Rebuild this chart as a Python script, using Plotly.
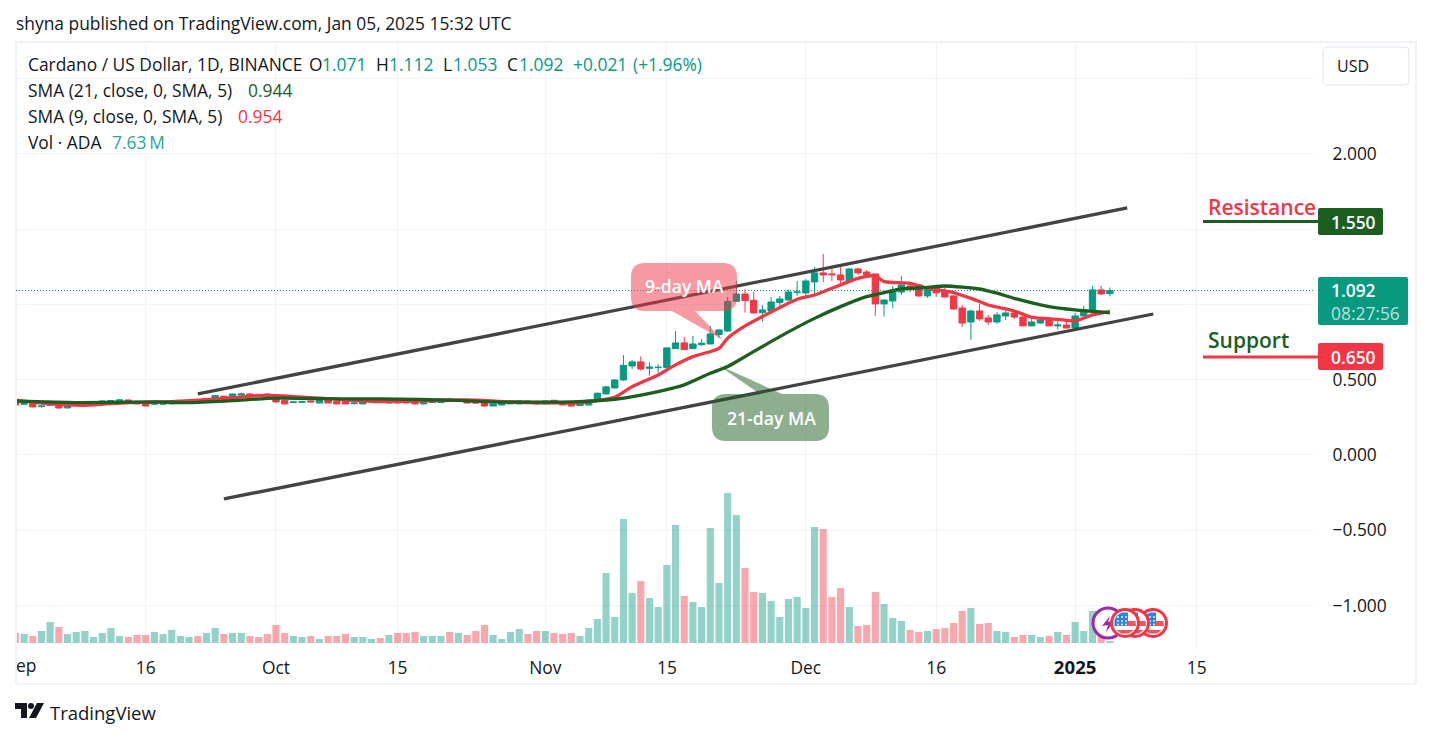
import pandas as pd
import plotly.graph_objects as go

dates = pd.date_range("2024-09-01", "2025-01-05", freq="D")

opens = [.352,.337,.343,.321,.330,.339,.312,.330,.345,.341,.339,.356,.359,.365,.356,.345,.337,.337,.339,.350,.352,.363,.356,.361,.390,.379,.398,.405,.403,.405,
 .383,.361,.348,.350,.359,.345,.365,.356,.354,.341,.339,.354,.361,.345,.370,.365,.356,.339,.348,.348,.372,.363,.367,.352,.350,.325,.332,.339,.339,.359,.356,
 .339,.363,.352,.343,.328,.332,.359,.405,.445,.498,.591,.618,.575,.580,.580,.706,.744,.706,.733,.737,.799,.823,1.020,1.069,1.027,.945,.956,1.012,1.029,1.078,
 1.076,1.149,1.209,1.202,1.195,1.155,1.235,1.215,1.202,1.003,1.023,1.082,1.122,1.129,1.056,1.109,1.082,1.056,.976,.883,.956,.910,.883,.923,.943,.916,.857,.876,.907,.857,.863,
 .843,.923,.963,1.096,1.071]
highs = [.355,.343,.345,.330,.337,.341,.334,.350,.354,.350,.361,.365,.372,.367,.359,.348,.345,.348,.356,.359,.365,.365,.374,.398,.394,.407,.414,.412,.405,.407,
 .385,.363,.354,.356,.361,.367,.370,.359,.356,.348,.359,.363,.363,.367,.372,.367,.359,.356,.356,.374,.381,.370,.370,.354,.352,.341,.345,.350,.361,.361,.359,
 .361,.365,.354,.345,.341,.368,.414,.460,.503,.664,.631,.655,.615,.602,.713,.823,.784,.790,.770,.857,.835,1.049,1.155,1.100,1.082,.994,1.049,1.056,1.096,1.155,
 1.169,1.248,1.335,1.242,1.248,1.242,1.242,1.228,1.205,1.032,1.122,1.189,1.140,1.135,1.109,1.122,1.113,1.058,.996,.963,1.003,.930,.950,.956,.950,.923,.914,.903,.916,.910,.896,
 .943,.989,1.122,1.122,1.112]
lows = [.330,.332,.317,.314,.328,.306,.310,.328,.341,.339,.337,.352,.354,.350,.337,.323,.332,.334,.337,.348,.350,.343,.352,.359,.381,.377,.394,.394,.392,.370,
 .345,.337,.343,.345,.350,.343,.343,.337,.337,.334,.337,.352,.348,.343,.343,.343,.337,.337,.345,.345,.359,.361,.343,.343,.319,.323,.328,.337,.337,.345,.337,
 .337,.339,.330,.321,.323,.330,.357,.403,.443,.491,.571,.560,.527,.547,.578,.704,.698,.704,.724,.735,.777,.817,1.016,.945,.938,.885,.945,.974,1.025,1.056,
 1.043,1.062,1.149,1.155,1.129,1.153,1.195,1.182,.923,.919,.976,1.062,1.082,1.049,1.043,1.049,1.045,.963,.850,.764,.890,.863,.870,.896,.903,.855,.855,.870,.855,.834,.841,
 .841,.921,.961,1.062,1.053]
closes = [.332,.341,.319,.325,.334,.312,.332,.348,.350,.345,.359,.361,.365,.352,.339,.325,.341,.345,.354,.354,.363,.350,.370,.394,.383,.405,.405,.398,.394,.374,
 .352,.339,.352,.354,.352,.365,.345,.339,.339,.345,.356,.361,.350,.365,.345,.345,.339,.354,.354,.372,.361,.367,.345,.345,.325,.339,.343,.348,.359,.348,.339,
 .359,.341,.332,.325,.339,.365,.410,.452,.498,.595,.618,.571,.584,.582,.711,.744,.700,.737,.742,.804,.830,1.020,1.069,1.025,.943,.963,1.016,1.036,1.082,1.082,
 1.155,1.209,1.195,1.197,1.162,1.235,1.209,1.195,1.003,1.029,1.096,1.129,1.118,1.056,1.104,1.076,1.049,.969,.876,.956,.903,.883,.930,.943,.916,.857,.883,.896,.857,.863,.843,
 .923,.963,1.096,1.069,1.092]
volumes_m = [40,36,28,48,84,64,36,44,48,24,40,60,28,24,32,32,44,36,52,28,24,28,40,60,36,40,40,28,24,36,
 72,40,28,24,28,16,28,28,36,24,24,16,20,32,40,40,44,28,28,28,44,40,32,48,72,32,16,44,56,36,48,
 48,40,36,40,28,60,96,280,104,496,200,248,180,144,312,472,188,164,144,460,240,600,512,300,204,200,168,104,176,184,
 140,464,456,184,220,144,68,72,204,156,100,88,52,44,48,56,60,80,128,140,76,80,48,44,24,32,32,24,28,44,32,
 84,48,128,44,7.63]

ma21_dates = ["2024-09-01","2024-09-08","2024-09-17","2024-09-21","2024-09-26","2024-10-01","2024-10-09","2024-10-13","2024-10-22","2024-10-26","2024-11-04",
 "2024-11-09","2024-11-14","2024-11-17","2024-11-20","2024-11-22","2024-11-24","2024-11-28","2024-12-02","2024-12-05","2024-12-08","2024-12-10","2024-12-12","2024-12-15","2024-12-17","2024-12-21","2024-12-23","2024-12-25","2024-12-29","2025-01-01","2025-01-05"]
ma21_vals = [.357,.348,.352,.348,.361,.377,.372,.372,.363,.352,.352,
 .370,.421,.465,.542,.587,.653,.786,.907,.985,1.051,1.078,1.102,1.113,1.122,1.102,1.074,1.040,.985,.963,.944]
ma9_dates = ["2024-09-01","2024-09-05","2024-09-09","2024-09-14","2024-09-19","2024-09-24","2024-09-30","2024-10-07","2024-10-13","2024-10-19","2024-10-23","2024-10-30","2024-11-05",
 "2024-11-07","2024-11-09","2024-11-11","2024-11-14","2024-11-16","2024-11-18","2024-11-21","2024-11-22","2024-11-24","2024-11-26","2024-11-30","2024-12-02","2024-12-04","2024-12-07","2024-12-09","2024-12-10","2024-12-13","2024-12-15","2024-12-18","2024-12-20","2024-12-22","2024-12-25","2024-12-27","2024-12-30","2025-01-01","2025-01-03","2025-01-05"]
ma9_vals = [.365,.339,.330,.348,.354,.370,.396,.374,.354,.361,.365,.348,.348,
 .361,.383,.454,.531,.598,.653,.708,.775,.857,.919,1.034,1.062,1.107,1.173,1.189,1.151,1.140,1.107,1.078,1.040,.996,.956,.914,.901,.890,.930,.954]

upper_dates, upper_vals = ["2024-09-22", "2025-01-07"], [.405, 1.640]
lower_dates, lower_vals = ["2024-09-25", "2025-01-10"], [-.292, .936]

x_ticks = ["2024-09-01","2024-09-16","2024-10-01","2024-10-15","2024-11-01","2024-11-15","2024-12-01","2024-12-16","2025-01-01","2025-01-15"]
x_labels = ["","16","Oct","15","Nov","15","Dec","16","<span style='font-size:18.6px'><b>2025</b></span>","15"]
y_ticks = [-1,-.5,0,.5,1,1.5,2,2.5]
y_labels = ["−1.000","−0.500","0.000","0.500","","","2.000",""]

FONT = "Open Sans"
FS = 17.4
INK = "#131722"
UP, DOWN = "#089981", "#f23645"
DGREEN = "#1b5e20"
L, R, T, B = 16, 1314, 42, 650

def px(x): return (x - L) / (R - L)
def py(y): return (B - y) / (B - T)
def P(*pts):
    return "M " + " L ".join(f"{px(a)},{py(b)}" for a, b in pts) + " Z"

shapes, notes = [], []
def poly(pts, fill, line=None, lw=0):
    shapes.append(dict(type="path", xref="paper", yref="paper", path=P(*pts), fillcolor=fill,
                       line=dict(color=line or "rgba(0,0,0,0)", width=lw)))
def rrect(x0, y0, x1, y1, r, fill, line=None, lw=0, tail=None):
    s = [f"M {px(x0+r)},{py(y0)}"]
    if tail and tail[0] == "top":
        s += [f"L {px(tail[1])},{py(y0)}", f"L {px(tail[3])},{py(tail[4])}", f"L {px(tail[2])},{py(y0)}"]
    s += [f"L {px(x1-r)},{py(y0)}", f"Q {px(x1)},{py(y0)} {px(x1)},{py(y0+r)}",
          f"L {px(x1)},{py(y1-r)}", f"Q {px(x1)},{py(y1)} {px(x1-r)},{py(y1)}"]
    if tail and tail[0] == "bottom":
        s += [f"L {px(tail[2])},{py(y1)}", f"L {px(tail[3])},{py(tail[4])}", f"L {px(tail[1])},{py(y1)}"]
    s += [f"L {px(x0+r)},{py(y1)}", f"Q {px(x0)},{py(y1)} {px(x0)},{py(y1-r)}",
          f"L {px(x0)},{py(y0+r)}", f"Q {px(x0)},{py(y0)} {px(x0+r)},{py(y0)}", "Z"]
    shapes.append(dict(type="path", xref="paper", yref="paper", path=" ".join(s), fillcolor=fill,
                       line=dict(color=line or "rgba(0,0,0,0)", width=lw)))
def circle(cx, cy, r, fill, line, lw):
    shapes.append(dict(type="circle", xref="paper", yref="paper", x0=px(cx-r), x1=px(cx+r),
                       y0=py(cy+r), y1=py(cy-r), fillcolor=fill, line=dict(color=line, width=lw)))
def text(x, y, s, color=INK, size=FS, anchor="left", weight=400):
    notes.append(dict(xref="paper", yref="paper", x=px(x), y=py(y), text=s, showarrow=False,
                      xanchor=anchor, yanchor="middle", align=anchor, borderpad=0, borderwidth=0,
                      font=dict(family=FONT, size=size, color=color, weight=weight)))

# frame
shapes.append(dict(type="rect", xref="paper", yref="paper", x0=px(16), x1=px(1416), y0=py(684), y1=py(42),
                   line=dict(color="#f0f3fa", width=2), fillcolor="rgba(0,0,0,0)"))
# price line
shapes.append(dict(type="line", xref="paper", yref="y", x0=0, x1=1, y0=closes[-1], y1=closes[-1],
                   line=dict(color=UP, width=1, dash="1px,2px")))
# resistance / support lines
shapes.append(dict(type="line", xref="paper", yref="y", x0=px(1203), x1=px(1318), y0=1.55, y1=1.55,
                   line=dict(color=DGREEN, width=3)))
shapes.append(dict(type="line", xref="paper", yref="y", x0=px(1203), x1=px(1318), y0=.65, y1=.65,
                   line=dict(color=DOWN, width=3)))
# callouts
rrect(631, 263, 737, 311, 14, "rgba(242,54,69,0.5)", tail=("bottom", 672, 695, 723, 340))
rrect(712, 394, 829, 441, 14, "rgba(27,94,32,0.5)", tail=("top", 760, 782, 718, 365))
text(684, 286, "9-day MA", "white", 17.6, "center", 600)
text(771, 418, "21-day MA", "white", 17.6, "center", 600)
# price badges
rrect(1318, 208, 1383, 235, 2, DGREEN)
rrect(1318, 277, 1408, 325, 2, UP)
rrect(1318, 343, 1383, 370, 2, DOWN)
text(1331, 222, "1.550", "white", FS, "left", 600)
text(1331, 301.5, "1.092<br><span style='font-weight:500;color:rgba(255,255,255,0.72)'>08:27:56</span>", "white", FS, "left", 600)
text(1331, 357, "0.650", "white", FS, "left", 600)
text(1208, 207, "Resistance", DOWN, 21, "left", 600)
text(1208, 340, "Support", DGREEN, 21, "left", 600)
# USD button
rrect(1323, 47, 1409, 85, 5, "white", "#e0e3eb", 1)
text(1337, 66, "USD", INK, 16)
# header and legend
text(16, 23, "shyna published on TradingView.com, Jan 05, 2025 15:32 UTC")
for x, s, c in [(28, "Cardano / US Dollar, 1D, BINANCE", INK), (309, "O", INK), (322, "1.071", UP), (376, "H", INK), (389, "1.112", UP),
                (443, "L", INK), (453, "1.053", UP), (507, "C", INK), (519, "1.092", UP), (573, "+0.021", UP), (633, "(+1.96%)", UP)]:
    text(x, 64, s, c)
text(28, 90, "SMA (21, close, 0, SMA, 5)"); text(248, 90, "0.944", DGREEN)
text(28, 116, "SMA (9, close, 0, SMA, 5)"); text(238, 116, "0.954", DOWN)
text(28, 142, "Vol · ADA"); text(112, 142, "7.63\u2009M", "#26a69a")
text(16, 665, "ep")
# logo
poly([(15,703),(27,703),(27,718),(21,718),(21,709),(15,709)], INK)
circle(31, 706, 3, INK, INK, 0)
poly([(37,703),(44,703),(36,718),(29,718)], INK)
text(50, 712, "TradingView", INK, 18.5)
# events
def flag(cx, cy=623):
    circle(cx, cy, 13.5, "white", "#f23645", 3)
    poly([(cx+3, cy-2), (cx+10.5, cy-2), (cx+11, cy+3), (cx+3, cy+3)], "#f7525f")
    poly([(cx-8.5, cy+7), (cx+8.5, cy+7), (cx+4, cy+10.5), (cx-4, cy+10.5)], "#f7525f")
    poly([(cx-10.5, cy+3), (cx-10.5, cy-3), (cx-8, cy-7.5), (cx-3, cy-10.5), (cx+3, cy-10.5), (cx+3, cy+3)], "#2e84e6")
    for dx in (-7, -3, 1):
        for dy in (-6, -2, 1.5):
            circle(cx+dx, cy+dy, 0.9, "white", "white", 0)
circle(1108, 623, 15, "white", "#9c27b0", 3)
poly([(1110,616),(1108,622),(1115,620),(1106,632),(1108,625),(1102,626)], "#9c27b0")
flag(1153); flag(1135); flag(1125)

fig = go.Figure()
vol_colors = ["rgba(8,153,129,0.44)" if c >= o else "rgba(242,54,69,0.44)" for o, c in zip(opens, closes)]
fig.add_trace(go.Bar(x=dates, y=volumes_m, marker=dict(color=vol_colors, line_width=0), yaxis="y2", name="Vol"))
fig.add_trace(go.Candlestick(x=dates, open=opens, high=highs, low=lows, close=closes, whiskerwidth=0, name="ADAUSD",
                             increasing=dict(line=dict(color=UP, width=1), fillcolor=UP),
                             decreasing=dict(line=dict(color=DOWN, width=1), fillcolor=DOWN)))
for xs, ys in [(upper_dates, upper_vals), (lower_dates, lower_vals)]:
    fig.add_trace(go.Scatter(x=xs, y=ys, mode="lines", line=dict(color="#434343", width=3.3)))
fig.add_trace(go.Scatter(x=ma9_dates, y=ma9_vals, mode="lines", line=dict(color=DOWN, width=3.3, shape="spline", smoothing=0.6), name="SMA 9"))
fig.add_trace(go.Scatter(x=ma21_dates, y=ma21_vals, mode="lines", line=dict(color=DGREEN, width=3.3, shape="spline", smoothing=0.6), name="SMA 21"))

fig.update_layout(
    width=1431, height=738, margin=dict(l=L, r=1431-R, t=T, b=738-B, autoexpand=False),
    paper_bgcolor="white", plot_bgcolor="white", showlegend=False, bargap=0.18, boxgap=0.27, boxgroupgap=0,
    font=dict(family=FONT, size=FS, color=INK), shapes=shapes, annotations=notes,
    xaxis=dict(type="date", range=["2024-09-01 01:40", "2025-01-28 12:00"], tickmode="array", tickvals=x_ticks, ticktext=x_labels,
               showgrid=True, gridcolor="#f0f3fa", zeroline=False, showline=False, ticks="outside", ticklen=2,
               tickcolor="rgba(0,0,0,0)", rangeslider=dict(visible=False), tickfont=dict(size=FS, color=INK)),
    yaxis=dict(range=[-1.295, 2.742], side="right", tickmode="array", tickvals=y_ticks, ticktext=y_labels,
               showgrid=True, gridcolor="#f0f3fa", zeroline=False, showline=False, ticks="outside", ticklen=14,
               tickcolor="rgba(0,0,0,0)", tickfont=dict(size=FS, color=INK)),
    yaxis2=dict(range=[-28, 2404], overlaying="y", side="left", visible=False),
)
fig.write_html("out.html", config=dict(displayModeBar=False), post_script="document.body.style.margin='0';")
